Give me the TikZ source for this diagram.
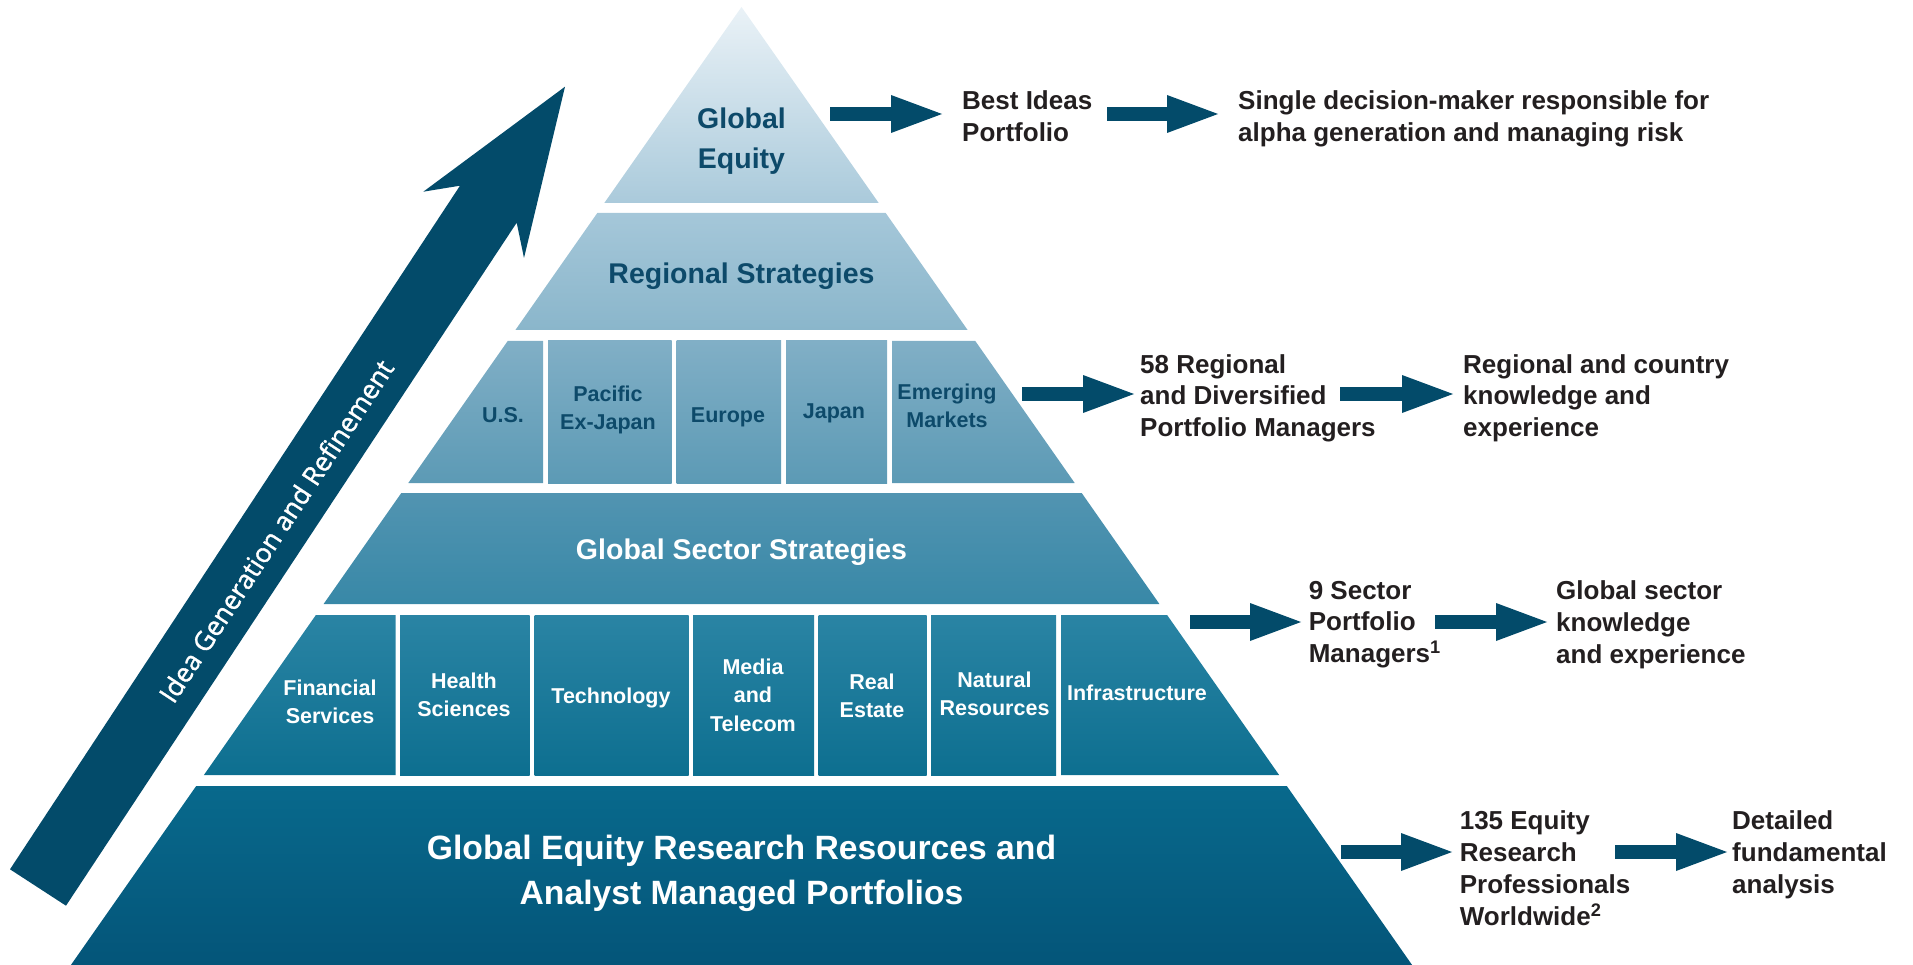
\documentclass[tikz,border=0pt]{standalone}
\usepackage{fontspec}
\setmainfont{Liberation Sans}
\newfontfamily\ideafont{Open Sans}[FakeBold=1.3]
\usetikzlibrary{arrows.meta}

% colours
\definecolor{arrowblue}{HTML}{034B6A}
\definecolor{labelteal}{HTML}{0D4A6A}
\definecolor{bodyblack}{HTML}{231F20}
% vertical gradient of the pyramid, sampled at band edges
\definecolor{cA}{HTML}{EAF2F7}
\definecolor{cB}{HTML}{AACADB}
\definecolor{cC}{HTML}{A5C7D9}
\definecolor{cD}{HTML}{8AB6CB}
\definecolor{cE}{HTML}{81AFC6}
\definecolor{cF}{HTML}{5C9AB5}
\definecolor{cG}{HTML}{5294B1}
\definecolor{cH}{HTML}{3888A7}
\definecolor{cI}{HTML}{2A84A4}
\definecolor{cJ}{HTML}{0D6F90}
\definecolor{cK}{HTML}{08698C}
\definecolor{cL}{HTML}{045579}

\begin{document}
\begin{tikzpicture}[x=1pt,y=-1pt,
  declare function={xl(\t)=741.5-0.7*(\t-7); xr(\t)=741.5+0.7*(\t-7);},
  firstline/.style={execute at begin node={\rule{0pt}{0.8em}}},
  sidetext/.style={anchor=north west, inner sep=0pt, align=left, firstline,
    text=bodyblack, font=\bfseries\fontsize{26}{31.7}\selectfont},
  tiertext/.style={anchor=north, inner sep=0pt, align=center, firstline,
    font=\bfseries\fontsize{28.5}{40}\selectfont},
  celltext/.style={anchor=north, inner sep=0pt, align=center, firstline,
    font=\bfseries\fontsize{21.5}{28.3}\selectfont},
  blockarrow/.style={draw=arrowblue, fill=arrowblue, line width=14pt,
    -{Triangle[width=38pt,length=51pt,line width=0pt]}},
  toptier/.style={top color=cA, bottom color=cB},
  regtier/.style={top color=cC, bottom color=cD},
  regcell/.style={top color=cE, bottom color=cF},
  sectier/.style={top color=cG, bottom color=cH},
  seccell/.style={top color=cI, bottom color=cJ},
  basetier/.style={top color=cK, bottom color=cL},
]
\useasboundingbox (0,0) rectangle (1913,965);

% ---------- pyramid tiers ----------
\path[toptier] (741.5,7) -- ({xr(203)},203) -- ({xl(203)},203) -- cycle;
\path[regtier] ({xl(213)},213) -- ({xr(213)},213) -- ({xr(330)},330) -- ({xl(330)},330) -- cycle;

% regional cells
\path[regcell] ({xl(341)},341) -- (543,341) -- (543,483) -- ({xl(483)},483) -- cycle;
\path[regcell] (548,341) rectangle (671.5,483);
\path[regcell] (676.5,341) rectangle (781,483);
\path[regcell] (786,341) rectangle (887,483);
\path[regcell] (892,341) -- ({xr(341)},341) -- ({xr(483)},483) -- (892,483) -- cycle;

\path[sectier] ({xl(493)},493) -- ({xr(493)},493) -- ({xr(604)},604) -- ({xl(604)},604) -- cycle;

% sector cells
\path[seccell] ({xl(615)},615) -- (395.5,615) -- (395.5,775) -- ({xl(775)},775) -- cycle;
\path[seccell] (400,615) rectangle (529.5,775);
\path[seccell] (534.5,615) rectangle (688.5,775);
\path[seccell] (693,615) rectangle (814,775);
\path[seccell] (818.5,615) rectangle (926.5,775);
\path[seccell] (931,615) rectangle (1056,775);
\path[seccell] (1061,615) -- ({xr(615)},615) -- ({xr(775)},775) -- (1061,775) -- cycle;

\path[basetier] ({xl(786)},786) -- ({xr(786)},786) -- ({xr(965)},965) -- ({xl(965)},965) -- cycle;

% ---------- tier labels ----------
\node[tiertext, text=labelteal] (globaleq) at (741.5,107.6) {Global\\Equity};
\node[tiertext, text=labelteal] (regstrat) at (741.5,260.6) {Regional Strategies};
\node[tiertext, text=white] (secstrat) at (741.5,536.6) {Global Sector Strategies};
\node[tiertext, text=white, font=\bfseries\fontsize{33.7}{45}\selectfont] (research) at (741.5,835)
  {Global Equity Research Resources and\\Analyst Managed Portfolios};

\node[celltext, text=labelteal] (us) at (503,405.5) {U.S.};
\node[celltext, text=labelteal] (pacific) at (608,385.5) {Pacific\\Ex-Japan};
\node[celltext, text=labelteal] (europe) at (728,404.8) {Europe};
\node[celltext, text=labelteal] (japan) at (834,400.8) {Japan};
\node[celltext, text=labelteal] (emerging) at (947,383.3) {Emerging\\Markets};

\node[celltext, text=white] (financial) at (330,679.5) {Financial\\Services};
\node[celltext, text=white] (health) at (464,672.8) {Health\\Sciences};
\node[celltext, text=white] (technology) at (611,685.8) {Technology};
\node[celltext, text=white] (media) at (753,658.8) {Media\\and\\Telecom};
\node[celltext, text=white] (realestate) at (872,673.5) {Real\\Estate};
\node[celltext, text=white] (natural) at (994.5,671.8) {Natural\\Resources};
\node[celltext, text=white] (infra) at (1137,683.5) {Infrastructure};

% ---------- idea generation arrow ----------
\fill[arrowblue] (10,869.3) -- (460,185.7) -- (423.3,191.7) -- (565,86.7)
  -- (524,258) -- (516.7,222.7) -- (66,905.7) -- cycle;
\node[rotate=56.7, text=white, inner sep=0pt,
  font=\ideafont\fontsize{26.5}{26.5}\selectfont] (idea) at (276,531)
  {Idea Generation and Refinement};

% ---------- side descriptions ----------
\node[sidetext] (best) at (962,90.9) {Best Ideas\\Portfolio};
\node[sidetext] (single) at (1238,90.9) {Single decision-maker responsible for\\alpha generation and managing risk};
\node[sidetext] (regpm) at (1140,354.2) {58 Regional\\and Diversified\\Portfolio Managers};
\node[sidetext] (regknow) at (1463,354.2) {Regional and country\\knowledge and\\experience};
\node[sidetext] (secpm) at (1308.6,580.9) {9 Sector\\Portfolio\\Managers\textsuperscript{1}};
\node[sidetext] (secknow) at (1556,580.9) {Global sector\\knowledge\\and experience};
\node[sidetext] (analysts) at (1459.6,810.9) {135 Equity\\Research\\Professionals\\Worldwide\textsuperscript{2}};
\node[sidetext] (detail) at (1732,810.9) {Detailed\\fundamental\\analysis};

% ---------- block arrows ----------
\coordinate (a1s) at (830,114);   \coordinate (a1e) at (942,114);
\coordinate (a2s) at (1107,114);  \coordinate (a2e) at (1218,114);
\coordinate (a3s) at (1022,394);  \coordinate (a3e) at (1134,394);
\coordinate (a4s) at (1340,394);  \coordinate (a4e) at (1453,394);
\coordinate (a5s) at (1190,622);  \coordinate (a5e) at (1301,622);
\coordinate (a6s) at (1435,622);  \coordinate (a6e) at (1547,622);
\coordinate (a7s) at (1341,852);  \coordinate (a7e) at (1452,852);
\coordinate (a8s) at (1615,852);  \coordinate (a8e) at (1727,852);
\foreach \n in {1,...,8}{\draw[blockarrow] (a\n s) -- (a\n e);}
\end{tikzpicture}
\end{document}
